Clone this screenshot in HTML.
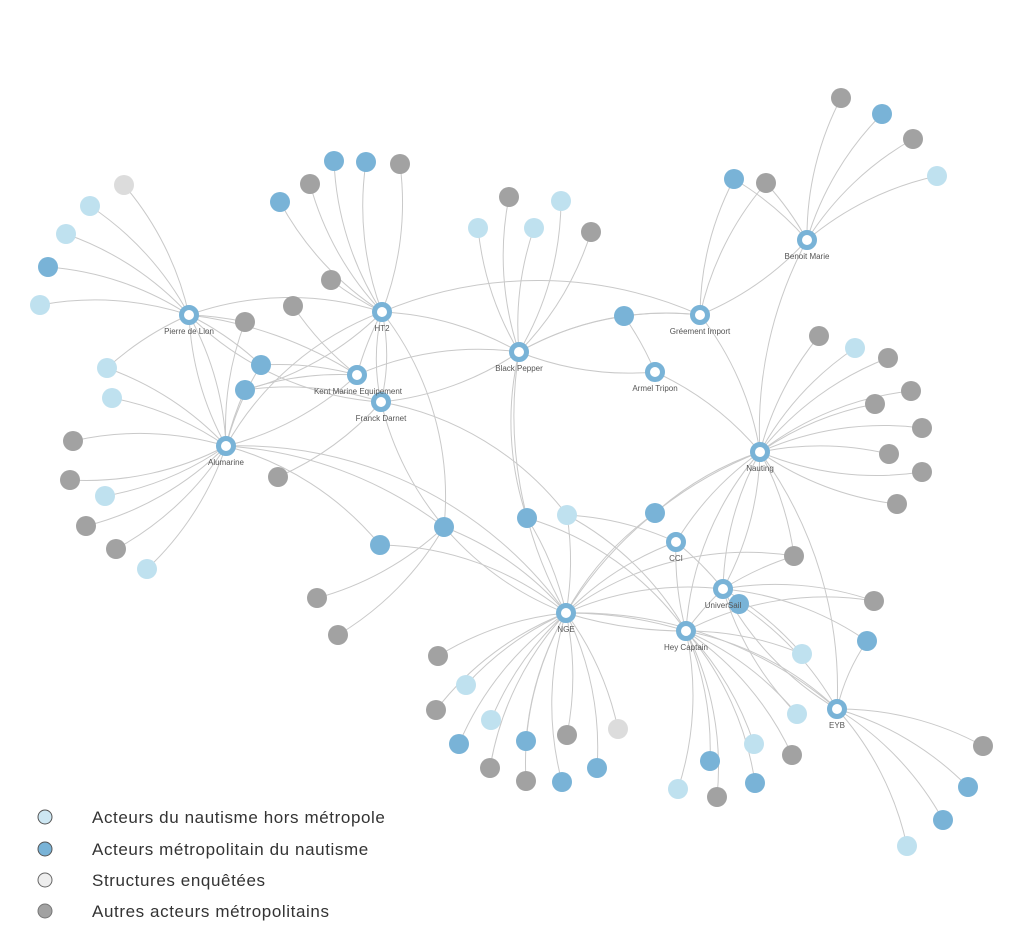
<!DOCTYPE html>
<html><head><meta charset="utf-8"><style>
html,body{margin:0;padding:0;background:#fff;}
svg{display:block;}
.e path{fill:none;stroke:#c9c9c9;stroke-width:1;}
.h{fill:#fff;stroke:#79b3d7;stroke-width:5;}
.l{fill:#bfe1ef}.m{fill:#79b3d7}.g{fill:#a2a2a2}.v{fill:#dcdcdc}
.t{font-family:"Liberation Sans",sans-serif;font-size:8px;fill:#555;text-anchor:middle;}
.lg{font-family:"Liberation Sans",sans-serif;font-size:17px;letter-spacing:0.6px;fill:#333;}
</style></head><body>
<svg width="1024" height="945" viewBox="0 0 1024 945" xmlns="http://www.w3.org/2000/svg">
<g class="e">
<path d="M189 315 A300 300 0 0 0 124 185"/><path d="M189 315 A300 300 0 0 0 90 206"/><path d="M189 315 A300 300 0 0 0 66 234"/><path d="M189 315 A300 300 0 0 0 48 267"/><path d="M189 315 A300 300 0 0 0 40 305"/>
<path d="M189 315 A300 300 0 0 1 382 312"/><path d="M189 315 A300 300 0 0 0 226 446"/><path d="M189 315 A300 300 0 0 1 226 446"/><path d="M189 315 A400 400 0 0 1 357 375"/><path d="M189 315 A300 300 0 0 0 381 402"/><path d="M189 315 A300 300 0 0 0 107 368"/><path d="M189 315 A300 300 0 0 1 245 322"/><path d="M189 315 A300 300 0 0 1 261 365"/>
<path d="M382 312 A300 300 0 0 1 280 202"/><path d="M382 312 A300 300 0 0 1 310 184"/><path d="M382 312 A300 300 0 0 1 334 161"/><path d="M382 312 A300 300 0 0 1 366 162"/><path d="M382 312 A300 300 0 0 0 400 164"/><path d="M382 312 A300 300 0 0 1 331 280"/>
<path d="M382 312 A300 300 0 0 1 519 352"/><path d="M382 312 A400 400 0 0 1 700 315"/><path d="M382 312 A300 300 0 0 0 357 375"/><path d="M382 312 A200 200 0 0 0 381 402"/><path d="M382 312 A200 200 0 0 1 381 402"/><path d="M382 312 A300 300 0 0 0 226 446"/><path d="M382 312 A300 300 0 0 1 444 527"/><path d="M382 312 A300 300 0 0 1 245 390"/>
<path d="M357 375 A300 300 0 0 1 293 306"/><path d="M357 375 A300 300 0 0 1 519 352"/><path d="M357 375 A300 300 0 0 0 245 390"/><path d="M357 375 A300 300 0 0 0 261 365"/><path d="M357 375 A300 300 0 0 1 226 446"/>
<path d="M381 402 A300 300 0 0 0 519 352"/><path d="M381 402 A300 300 0 0 1 278 477"/><path d="M381 402 A300 300 0 0 1 567 515"/><path d="M381 402 A300 300 0 0 0 245 390"/><path d="M381 402 A300 300 0 0 0 566 613"/>
<path d="M226 446 A300 300 0 0 0 73 441"/><path d="M226 446 A300 300 0 0 1 70 480"/><path d="M226 446 A300 300 0 0 1 105 496"/><path d="M226 446 A300 300 0 0 1 86 526"/><path d="M226 446 A300 300 0 0 1 116 549"/><path d="M226 446 A300 300 0 0 1 147 569"/><path d="M226 446 A300 300 0 0 0 107 368"/><path d="M226 446 A300 300 0 0 0 112 398"/><path d="M226 446 A300 300 0 0 1 245 322"/><path d="M226 446 A300 300 0 0 1 261 365"/><path d="M226 446 A300 300 0 0 1 245 390"/>
<path d="M226 446 A300 300 0 0 1 380 545"/><path d="M226 446 A400 400 0 0 1 444 527"/><path d="M226 446 A400 400 0 0 1 566 613"/>
<path d="M519 352 A300 300 0 0 1 509 197"/><path d="M519 352 A300 300 0 0 1 478 228"/><path d="M519 352 A300 300 0 0 1 534 228"/><path d="M519 352 A300 300 0 0 0 561 201"/><path d="M519 352 A300 300 0 0 0 591 232"/><path d="M519 352 A300 300 0 0 1 624 316"/><path d="M519 352 A300 300 0 0 0 655 372"/><path d="M519 352 A300 300 0 0 1 700 315"/><path d="M519 352 A300 300 0 0 0 527 518"/><path d="M519 352 A400 400 0 0 0 566 613"/>
<path d="M700 315 A300 300 0 0 0 624 316"/><path d="M700 315 A300 300 0 0 1 734 179"/><path d="M700 315 A300 300 0 0 1 766 183"/><path d="M700 315 A300 300 0 0 0 807 240"/><path d="M700 315 A300 300 0 0 1 760 452"/>
<path d="M807 240 A300 300 0 0 1 841 98"/><path d="M807 240 A300 300 0 0 1 882 114"/><path d="M807 240 A300 300 0 0 1 913 139"/><path d="M807 240 A300 300 0 0 1 937 176"/><path d="M807 240 A300 300 0 0 0 734 179"/><path d="M807 240 A300 300 0 0 0 766 183"/><path d="M807 240 A400 400 0 0 0 760 452"/>
<path d="M655 372 A300 300 0 0 0 624 316"/><path d="M655 372 A300 300 0 0 1 760 452"/>
<path d="M760 452 A300 300 0 0 1 819 336"/><path d="M760 452 A300 300 0 0 1 855 348"/><path d="M760 452 A300 300 0 0 1 888 358"/><path d="M760 452 A300 300 0 0 1 911 391"/><path d="M760 452 A300 300 0 0 1 875 404"/><path d="M760 452 A300 300 0 0 1 922 428"/><path d="M760 452 A300 300 0 0 1 889 454"/><path d="M760 452 A300 300 0 0 0 922 472"/><path d="M760 452 A300 300 0 0 0 897 504"/><path d="M760 452 A300 300 0 0 1 794 556"/>
<path d="M760 452 A300 300 0 0 0 655 513"/><path d="M760 452 A300 300 0 0 0 676 542"/><path d="M760 452 A300 300 0 0 1 723 589"/><path d="M760 452 A300 300 0 0 0 723 589"/><path d="M760 452 A400 400 0 0 0 566 613"/><path d="M760 452 A300 300 0 0 0 686 631"/><path d="M760 452 A400 400 0 0 1 837 709"/>
<path d="M566 613 A300 300 0 0 0 438 656"/><path d="M566 613 A300 300 0 0 0 466 685"/><path d="M566 613 A300 300 0 0 0 436 710"/><path d="M566 613 A300 300 0 0 0 491 720"/><path d="M566 613 A300 300 0 0 0 459 744"/><path d="M566 613 A300 300 0 0 0 490 768"/><path d="M566 613 A300 300 0 0 0 526 741"/><path d="M566 613 A300 300 0 0 0 526 781"/><path d="M566 613 A300 300 0 0 1 567 735"/><path d="M566 613 A300 300 0 0 0 562 782"/><path d="M566 613 A300 300 0 0 1 597 768"/><path d="M566 613 A300 300 0 0 1 618 729"/>
<path d="M566 613 A300 300 0 0 0 444 527"/><path d="M566 613 A300 300 0 0 0 380 545"/><path d="M566 613 A300 300 0 0 0 527 518"/><path d="M566 613 A300 300 0 0 0 567 515"/><path d="M566 613 A300 300 0 0 1 655 513"/><path d="M566 613 A300 300 0 0 1 676 542"/><path d="M566 613 A300 300 0 0 1 723 589"/><path d="M566 613 A400 400 0 0 1 686 631"/><path d="M566 613 A400 400 0 0 0 686 631"/><path d="M566 613 A400 400 0 0 1 837 709"/><path d="M566 613 A300 300 0 0 1 794 556"/>
<path d="M444 527 A300 300 0 0 1 317 598"/><path d="M444 527 A300 300 0 0 1 338 635"/>
<path d="M676 542 A300 300 0 0 0 686 631"/><path d="M676 542 A300 300 0 0 1 723 589"/><path d="M676 542 A300 300 0 0 0 567 515"/>
<path d="M723 589 A300 300 0 0 1 874 601"/><path d="M723 589 A300 300 0 0 1 867 641"/><path d="M723 589 A300 300 0 0 1 802 654"/><path d="M723 589 A300 300 0 0 0 837 709"/><path d="M723 589 A300 300 0 0 0 686 631"/><path d="M723 589 A300 300 0 0 1 794 556"/><path d="M723 589 A300 300 0 0 0 797 714"/>
<path d="M686 631 A300 300 0 0 1 678 789"/><path d="M686 631 A300 300 0 0 1 717 797"/><path d="M686 631 A300 300 0 0 1 710 761"/><path d="M686 631 A300 300 0 0 1 755 783"/><path d="M686 631 A300 300 0 0 1 754 744"/><path d="M686 631 A300 300 0 0 1 792 755"/><path d="M686 631 A300 300 0 0 1 797 714"/><path d="M686 631 A300 300 0 0 1 802 654"/><path d="M686 631 A300 300 0 0 1 837 709"/><path d="M686 631 A300 300 0 0 0 527 518"/><path d="M686 631 A300 300 0 0 0 567 515"/><path d="M686 631 A300 300 0 0 1 874 601"/>
<path d="M837 709 A300 300 0 0 1 983 746"/><path d="M837 709 A300 300 0 0 1 968 787"/><path d="M837 709 A300 300 0 0 1 943 820"/><path d="M837 709 A300 300 0 0 1 907 846"/><path d="M837 709 A200 200 0 0 1 867 641"/><path d="M837 709 A300 300 0 0 0 739 604"/>
</g>
<g>
<circle class="v" cx="124" cy="185" r="10"/><circle class="l" cx="90" cy="206" r="10"/><circle class="l" cx="66" cy="234" r="10"/><circle class="m" cx="48" cy="267" r="10"/><circle class="l" cx="40" cy="305" r="10"/>
<circle class="m" cx="280" cy="202" r="10"/><circle class="g" cx="310" cy="184" r="10"/><circle class="m" cx="334" cy="161" r="10"/><circle class="m" cx="366" cy="162" r="10"/><circle class="g" cx="400" cy="164" r="10"/><circle class="g" cx="331" cy="280" r="10"/><circle class="g" cx="293" cy="306" r="10"/>
<circle class="g" cx="509" cy="197" r="10"/><circle class="l" cx="478" cy="228" r="10"/><circle class="l" cx="534" cy="228" r="10"/><circle class="l" cx="561" cy="201" r="10"/><circle class="g" cx="591" cy="232" r="10"/>
<circle class="g" cx="841" cy="98" r="10"/><circle class="m" cx="882" cy="114" r="10"/><circle class="g" cx="913" cy="139" r="10"/><circle class="l" cx="937" cy="176" r="10"/><circle class="m" cx="734" cy="179" r="10"/><circle class="g" cx="766" cy="183" r="10"/>
<circle class="m" cx="624" cy="316" r="10"/>
<circle class="g" cx="819" cy="336" r="10"/><circle class="l" cx="855" cy="348" r="10"/><circle class="g" cx="888" cy="358" r="10"/><circle class="g" cx="911" cy="391" r="10"/><circle class="g" cx="875" cy="404" r="10"/><circle class="g" cx="922" cy="428" r="10"/><circle class="g" cx="889" cy="454" r="10"/><circle class="g" cx="922" cy="472" r="10"/><circle class="g" cx="897" cy="504" r="10"/><circle class="g" cx="794" cy="556" r="10"/><circle class="m" cx="655" cy="513" r="10"/>
<circle class="g" cx="73" cy="441" r="10"/><circle class="g" cx="70" cy="480" r="10"/><circle class="l" cx="105" cy="496" r="10"/><circle class="g" cx="86" cy="526" r="10"/><circle class="g" cx="116" cy="549" r="10"/><circle class="l" cx="147" cy="569" r="10"/><circle class="l" cx="107" cy="368" r="10"/><circle class="l" cx="112" cy="398" r="10"/><circle class="g" cx="278" cy="477" r="10"/><circle class="g" cx="245" cy="322" r="10"/><circle class="m" cx="261" cy="365" r="10"/><circle class="m" cx="245" cy="390" r="10"/>
<circle class="g" cx="438" cy="656" r="10"/><circle class="l" cx="466" cy="685" r="10"/><circle class="g" cx="436" cy="710" r="10"/><circle class="l" cx="491" cy="720" r="10"/><circle class="m" cx="459" cy="744" r="10"/><circle class="g" cx="490" cy="768" r="10"/><circle class="m" cx="526" cy="741" r="10"/><circle class="g" cx="526" cy="781" r="10"/><circle class="g" cx="567" cy="735" r="10"/><circle class="m" cx="562" cy="782" r="10"/><circle class="m" cx="597" cy="768" r="10"/><circle class="v" cx="618" cy="729" r="10"/>
<circle class="m" cx="444" cy="527" r="10"/><circle class="m" cx="380" cy="545" r="10"/><circle class="m" cx="527" cy="518" r="10"/><circle class="l" cx="567" cy="515" r="10"/><circle class="g" cx="317" cy="598" r="10"/><circle class="g" cx="338" cy="635" r="10"/>
<circle class="l" cx="678" cy="789" r="10"/><circle class="g" cx="717" cy="797" r="10"/><circle class="m" cx="710" cy="761" r="10"/><circle class="m" cx="755" cy="783" r="10"/><circle class="l" cx="754" cy="744" r="10"/><circle class="g" cx="792" cy="755" r="10"/><circle class="l" cx="797" cy="714" r="10"/><circle class="l" cx="802" cy="654" r="10"/>
<circle class="m" cx="739" cy="604" r="10"/><circle class="g" cx="874" cy="601" r="10"/><circle class="m" cx="867" cy="641" r="10"/>
<circle class="g" cx="983" cy="746" r="10"/><circle class="m" cx="968" cy="787" r="10"/><circle class="m" cx="943" cy="820" r="10"/><circle class="l" cx="907" cy="846" r="10"/>
</g>
<g>
<circle class="h" cx="189" cy="315" r="7.5"/><circle class="h" cx="382" cy="312" r="7.5"/><circle class="h" cx="357" cy="375" r="7.5"/><circle class="h" cx="381" cy="402" r="7.5"/><circle class="h" cx="226" cy="446" r="7.5"/><circle class="h" cx="519" cy="352" r="7.5"/><circle class="h" cx="700" cy="315" r="7.5"/><circle class="h" cx="655" cy="372" r="7.5"/><circle class="h" cx="807" cy="240" r="7.5"/><circle class="h" cx="760" cy="452" r="7.5"/><circle class="h" cx="676" cy="542" r="7.5"/><circle class="h" cx="723" cy="589" r="7.5"/><circle class="h" cx="686" cy="631" r="7.5"/><circle class="h" cx="566" cy="613" r="7.5"/><circle class="h" cx="837" cy="709" r="7.5"/>
</g>
<g class="t">
<text x="189" y="334">Pierre de Lion</text><text x="382" y="331">HT2</text><text x="358" y="394">Kent Marine Equipement</text><text x="381" y="421">Franck Darnet</text><text x="226" y="465">Alumarine</text><text x="519" y="371">Black Pepper</text><text x="700" y="334">Gréement Import</text><text x="655" y="391">Armel Tripon</text><text x="807" y="259">Benoit Marie</text><text x="760" y="471">Nauting</text><text x="676" y="561">CCI</text><text x="723" y="608">UniverSail</text><text x="686" y="650">Hey Captain</text><text x="566" y="632">NGE</text><text x="837" y="728">EYB</text>
</g>
<g>
<circle cx="45" cy="817" r="7" fill="#cde7f3" stroke="#555" stroke-width="1"/>
<circle cx="45" cy="849" r="7" fill="#79b3d7" stroke="#555" stroke-width="1"/>
<circle cx="45" cy="880" r="7" fill="#eee" stroke="#666" stroke-width="1"/>
<circle cx="45" cy="911" r="7" fill="#a2a2a2" stroke="#777" stroke-width="1"/>
<text class="lg" x="92" y="823">Acteurs du nautisme hors métropole</text>
<text class="lg" x="92" y="855">Acteurs métropolitain du nautisme</text>
<text class="lg" x="92" y="886">Structures enquêtées</text>
<text class="lg" x="92" y="917">Autres acteurs métropolitains</text>
</g>
</svg>
</body></html>
